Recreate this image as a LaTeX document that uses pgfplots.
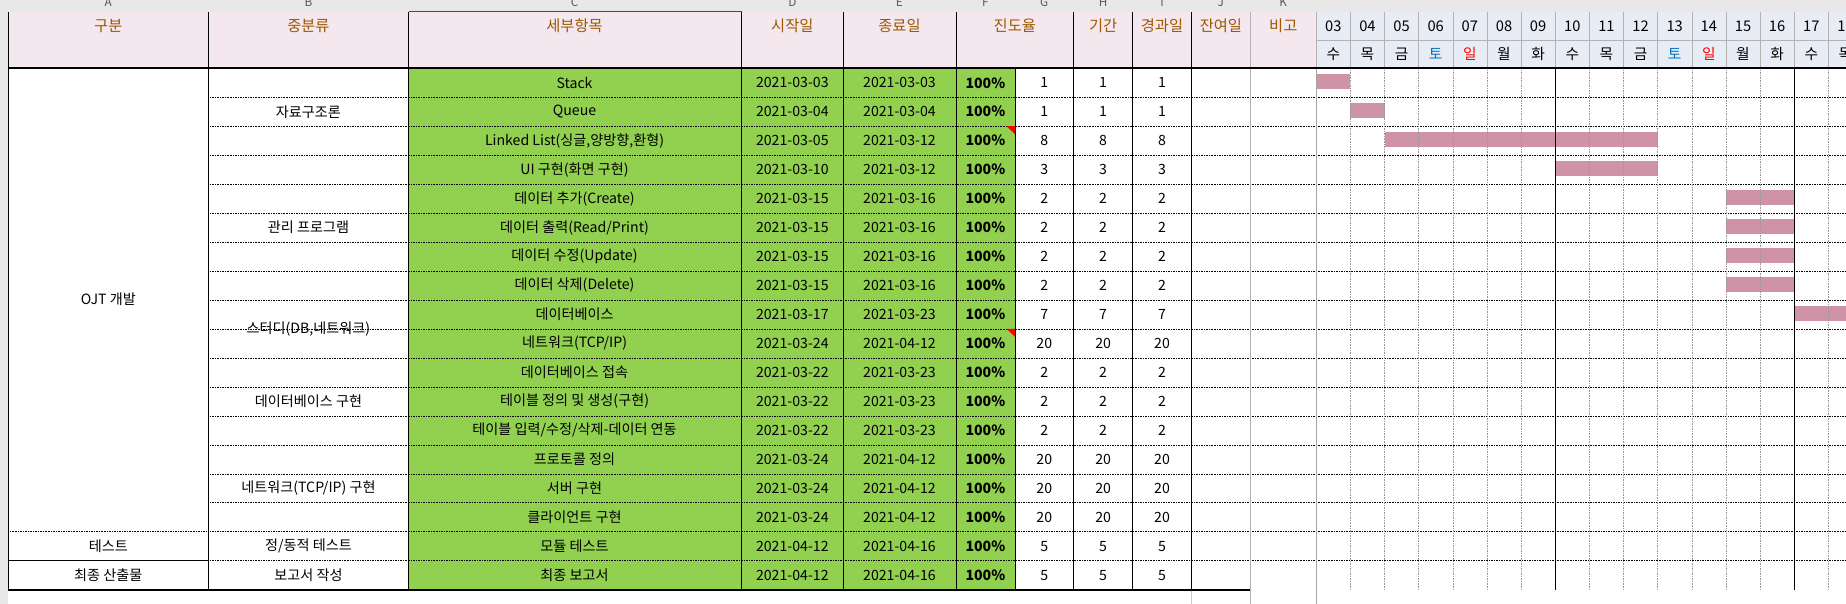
\documentclass[border=0pt]{standalone}
\usepackage{pgfplots}
\pgfplotsset{compat=1.18}
\usepackage{fontspec}
\setmainfont{Noto Sans CJK KR}
\definecolor{hdr}{HTML}{F4E8EE}
\definecolor{dayh}{HTML}{E8ECF4}
\definecolor{grn}{HTML}{92D050}
\definecolor{brn}{HTML}{9C5700}
\definecolor{barc}{HTML}{CF93A8}
\definecolor{sat}{HTML}{0070C0}
\newcommand{\rowtxt}[5]{%
 \node[font=\fontsize{12}{12}\selectfont] at (axis cs:488,{58+24.6*(#1+0.5)}) {#2};
 \node[font=\fontsize{12}{12}\selectfont] at (axis cs:673,{58+24.6*(#1+0.5)}) {#3};
 \node[font=\fontsize{12}{12}\selectfont] at (axis cs:764,{58+24.6*(#1+0.5)}) {#4};
 \node[font=\bfseries\fontsize{12}{12}\selectfont] at (axis cs:837,{58+24.6*(#1+0.5)}) {100\%};
 \node[font=\fontsize{12}{12}\selectfont] at (axis cs:887,{58+24.6*(#1+0.5)}) {#5};
 \node[font=\fontsize{12}{12}\selectfont] at (axis cs:937,{58+24.6*(#1+0.5)}) {#5};
 \node[font=\fontsize{12}{12}\selectfont] at (axis cs:987,{58+24.6*(#1+0.5)}) {#5};}
\newcommand{\dayhd}[2]{%
 \node[font=\fontsize{12.5}{12}\selectfont] at (axis cs:{1118+29*#1+14.5},22) {#2};}
\begin{document}
\begin{tikzpicture}
\begin{axis}[width=1568pt,height=513pt,scale only axis,xmin=0,xmax=1568,ymin=0,ymax=513,
 y dir=reverse,axis lines=none,clip=true]
% backgrounds
\fill[gray!18] (axis cs:0,0) rectangle (axis cs:1568,10);
\fill[gray!18] (axis cs:0,0) rectangle (axis cs:7,513);
\fill[hdr] (axis cs:7,10) rectangle (axis cs:1118,58);
\fill[dayh] (axis cs:1118,10) rectangle (axis cs:1568,58);
\fill[grn] (axis cs:347,58) rectangle (axis cs:862,501);
% column letters
\node[font=\fontsize{10}{10}\selectfont,text=gray!70!black] at (axis cs:92,2) {A};
\node[font=\fontsize{10}{10}\selectfont,text=gray!70!black] at (axis cs:262,2) {B};
\node[font=\fontsize{10}{10}\selectfont,text=gray!70!black] at (axis cs:488,2) {C};
\node[font=\fontsize{10}{10}\selectfont,text=gray!70!black] at (axis cs:673,2) {D};
\node[font=\fontsize{10}{10}\selectfont,text=gray!70!black] at (axis cs:764,2) {E};
\node[font=\fontsize{10}{10}\selectfont,text=gray!70!black] at (axis cs:837,2) {F};
\node[font=\fontsize{10}{10}\selectfont,text=gray!70!black] at (axis cs:887,2) {G};
\node[font=\fontsize{10}{10}\selectfont,text=gray!70!black] at (axis cs:937,2) {H};
\node[font=\fontsize{10}{10}\selectfont,text=gray!70!black] at (axis cs:987,2) {I};
\node[font=\fontsize{10}{10}\selectfont,text=gray!70!black] at (axis cs:1037,2) {J};
\node[font=\fontsize{10}{10}\selectfont,text=gray!70!black] at (axis cs:1090,2) {K};
\draw[green!50!black,line width=1.2pt] (axis cs:347,10) -- (axis cs:630,10);
% bars
\addplot[fill=barc,draw=none] coordinates {(1118,63)(1147,63)(1147,76)(1118,76)} --cycle;
\addplot[fill=barc,draw=none] coordinates {(1147,87.6)(1176,87.6)(1176,100.6)(1147,100.6)} --cycle;
\addplot[fill=barc,draw=none] coordinates {(1176,112.2)(1408,112.2)(1408,125.2)(1176,125.2)} --cycle;
\addplot[fill=barc,draw=none] coordinates {(1321,136.8)(1408,136.8)(1408,149.8)(1321,149.8)} --cycle;
\addplot[fill=barc,draw=none] coordinates {(1466,161.4)(1524,161.4)(1524,174.4)(1466,174.4)} --cycle;
\addplot[fill=barc,draw=none] coordinates {(1466,186)(1524,186)(1524,199)(1466,199)} --cycle;
\addplot[fill=barc,draw=none] coordinates {(1466,210.6)(1524,210.6)(1524,223.6)(1466,223.6)} --cycle;
\addplot[fill=barc,draw=none] coordinates {(1466,235.2)(1524,235.2)(1524,248.2)(1466,248.2)} --cycle;
\addplot[fill=barc,draw=none] coordinates {(1524,259.8)(1570,259.8)(1570,272.8)(1524,272.8)} --cycle;
% horizontal row lines
\pgfplotsinvokeforeach{1,...,17}{
 \draw[densely dotted,black] (axis cs:177,{58+24.6*#1}) -- (axis cs:1568,{58+24.6*#1});}
\draw[densely dotted] (axis cs:7,451.6) -- (axis cs:177,451.6);
\draw[black] (axis cs:7,476.2) -- (axis cs:177,476.2);
% day verticals
\pgfplotsinvokeforeach{1,...,15}{
 \draw[densely dotted,gray!80] (axis cs:{1118+29*#1},58) -- (axis cs:{1118+29*#1},501);
 \draw[gray!60] (axis cs:{1118+29*#1},10) -- (axis cs:{1118+29*#1},58);}
\draw[black] (axis cs:1321,58) -- (axis cs:1321,501);
\draw[black] (axis cs:1524,58) -- (axis cs:1524,501);
\draw[gray!60] (axis cs:1118,34) -- (axis cs:1568,34);
% column verticals
\pgfplotsinvokeforeach{7,177,347,630,716,812,912,962,1012}{
 \draw[black] (axis cs:#1,10) -- (axis cs:#1,501);}
\draw[black] (axis cs:862,58) -- (axis cs:862,501);
\draw[gray!60] (axis cs:1062,10) -- (axis cs:1062,513);
\draw[gray!60] (axis cs:1118,10) -- (axis cs:1118,58);
\draw[gray!70] (axis cs:1118,58) -- (axis cs:1118,513);
\draw[gray!40] (axis cs:7,513) -- (axis cs:1568,513);
\draw[gray!40] (axis cs:1012,501) -- (axis cs:1012,513);
% thick lines
\draw[black,line width=1.8pt] (axis cs:7,58) -- (axis cs:1568,58);
\draw[black,line width=1.5pt] (axis cs:7,501) -- (axis cs:1062,501);
% comment markers
\fill[red] (axis cs:855,107.2) -- (axis cs:862,107.2) -- (axis cs:862,114) -- cycle;
\fill[red] (axis cs:855,279.4) -- (axis cs:862,279.4) -- (axis cs:862,286) -- cycle;
% header labels
\node[font=\fontsize{13}{13}\selectfont,text=brn] at (axis cs:92,22) {구분};
\node[font=\fontsize{13}{13}\selectfont,text=brn] at (axis cs:262,22) {중분류};
\node[font=\fontsize{13}{13}\selectfont,text=brn] at (axis cs:488,22) {세부항목};
\node[font=\fontsize{13}{13}\selectfont,text=brn] at (axis cs:673,22) {시작일};
\node[font=\fontsize{13}{13}\selectfont,text=brn] at (axis cs:764,22) {종료일};
\node[font=\fontsize{13}{13}\selectfont,text=brn] at (axis cs:862,22) {진도율};
\node[font=\fontsize{13}{13}\selectfont,text=brn] at (axis cs:937,22) {기간};
\node[font=\fontsize{13}{13}\selectfont,text=brn] at (axis cs:987,22) {경과일};
\node[font=\fontsize{13}{13}\selectfont,text=brn] at (axis cs:1037,22) {잔여일};
\node[font=\fontsize{13}{13}\selectfont,text=brn] at (axis cs:1090,22) {비고};
% days
\dayhd{0}{03}\dayhd{1}{04}\dayhd{2}{05}\dayhd{3}{06}\dayhd{4}{07}
\dayhd{5}{08}\dayhd{6}{09}\dayhd{7}{10}\dayhd{8}{11}\dayhd{9}{12}
\dayhd{10}{13}\dayhd{11}{14}\dayhd{12}{15}\dayhd{13}{16}\dayhd{14}{17}\dayhd{15}{18}
\node[font=\fontsize{12.5}{12}\selectfont] at (axis cs:1132.5,46) {수};
\node[font=\fontsize{12.5}{12}\selectfont] at (axis cs:1161.5,46) {목};
\node[font=\fontsize{12.5}{12}\selectfont] at (axis cs:1190.5,46) {금};
\node[font=\fontsize{12.5}{12}\selectfont,text=sat] at (axis cs:1219.5,46) {토};
\node[font=\fontsize{12.5}{12}\selectfont,text=red] at (axis cs:1248.5,46) {일};
\node[font=\fontsize{12.5}{12}\selectfont] at (axis cs:1277.5,46) {월};
\node[font=\fontsize{12.5}{12}\selectfont] at (axis cs:1306.5,46) {화};
\node[font=\fontsize{12.5}{12}\selectfont] at (axis cs:1335.5,46) {수};
\node[font=\fontsize{12.5}{12}\selectfont] at (axis cs:1364.5,46) {목};
\node[font=\fontsize{12.5}{12}\selectfont] at (axis cs:1393.5,46) {금};
\node[font=\fontsize{12.5}{12}\selectfont,text=sat] at (axis cs:1422.5,46) {토};
\node[font=\fontsize{12.5}{12}\selectfont,text=red] at (axis cs:1451.5,46) {일};
\node[font=\fontsize{12.5}{12}\selectfont] at (axis cs:1480.5,46) {월};
\node[font=\fontsize{12.5}{12}\selectfont] at (axis cs:1509.5,46) {화};
\node[font=\fontsize{12.5}{12}\selectfont] at (axis cs:1538.5,46) {수};
\node[font=\fontsize{12.5}{12}\selectfont] at (axis cs:1567.5,46) {목};
% group labels
\node[font=\fontsize{12}{12}\selectfont] at (axis cs:92,254) {OJT 개발};
\node[font=\fontsize{12}{12}\selectfont] at (axis cs:92,463.9) {테스트};
\node[font=\fontsize{12}{12}\selectfont] at (axis cs:92,488.5) {최종 산출물};
\node[font=\fontsize{12}{12}\selectfont] at (axis cs:262,94.9) {자료구조론};
\node[font=\fontsize{12}{12}\selectfont] at (axis cs:262,193.3) {관리 프로그램};
\node[font=\fontsize{12}{12}\selectfont] at (axis cs:262,279.4) {스터디(DB,네트워크)};
\node[font=\fontsize{12}{12}\selectfont] at (axis cs:262,340.9) {데이터베이스 구현};
\node[font=\fontsize{12}{12}\selectfont] at (axis cs:262,414.7) {네트워크(TCP/IP) 구현};
\node[font=\fontsize{12}{12}\selectfont] at (axis cs:262,463.9) {정/동적 테스트};
\node[font=\fontsize{12}{12}\selectfont] at (axis cs:262,488.5) {보고서 작성};
% rows
\rowtxt{0}{Stack}{2021-03-03}{2021-03-03}{1}
\rowtxt{1}{Queue}{2021-03-04}{2021-03-04}{1}
\rowtxt{2}{Linked List(싱글,양방향,환형)}{2021-03-05}{2021-03-12}{8}
\rowtxt{3}{UI 구현(화면 구현)}{2021-03-10}{2021-03-12}{3}
\rowtxt{4}{데이터 추가(Create)}{2021-03-15}{2021-03-16}{2}
\rowtxt{5}{데이터 출력(Read/Print)}{2021-03-15}{2021-03-16}{2}
\rowtxt{6}{데이터 수정(Update)}{2021-03-15}{2021-03-16}{2}
\rowtxt{7}{데이터 삭제(Delete)}{2021-03-15}{2021-03-16}{2}
\rowtxt{8}{데이터베이스}{2021-03-17}{2021-03-23}{7}
\rowtxt{9}{네트워크(TCP/IP)}{2021-03-24}{2021-04-12}{20}
\rowtxt{10}{데이터베이스 접속}{2021-03-22}{2021-03-23}{2}
\rowtxt{11}{테이블 정의 및 생성(구현)}{2021-03-22}{2021-03-23}{2}
\rowtxt{12}{테이블 입력/수정/삭제-데이터 연동}{2021-03-22}{2021-03-23}{2}
\rowtxt{13}{프로토콜 정의}{2021-03-24}{2021-04-12}{20}
\rowtxt{14}{서버 구현}{2021-03-24}{2021-04-12}{20}
\rowtxt{15}{클라이언트 구현}{2021-03-24}{2021-04-12}{20}
\rowtxt{16}{모듈 테스트}{2021-04-12}{2021-04-16}{5}
\rowtxt{17}{최종 보고서}{2021-04-12}{2021-04-16}{5}
\end{axis}
\end{tikzpicture}
\end{document}
